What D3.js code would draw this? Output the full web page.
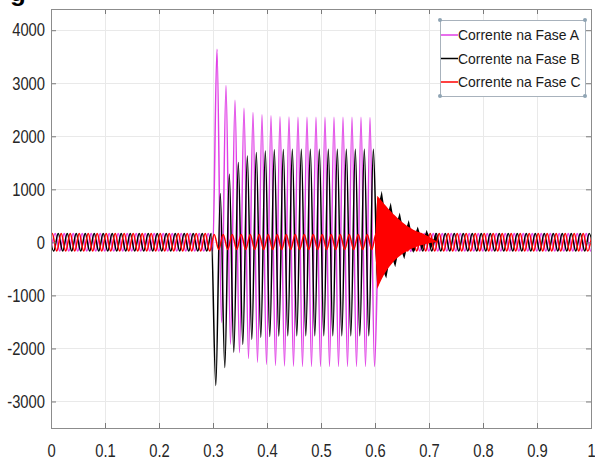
<!DOCTYPE html>
<html>
<head>
<meta charset="utf-8">
<script src="https://cdn.jsdelivr.net/npm/d3@7"></script>
<style>
  body { margin: 0; background: #fff; }
  text { font-family: "Liberation Sans", Arial, sans-serif; }
</style>
</head>
<body>
<div id="chart"></div>
<script>
// ---- data ----
const timeTicks = [0, 0.1, 0.2, 0.3, 0.4, 0.5, 0.6, 0.7, 0.8, 0.9, 1];
const currentTicks = [-3000, -2000, -1000, 0, 1000, 2000, 3000, 4000];
const seriesNames = ["Corrente na Fase A", "Corrente na Fase B", "Corrente na Fase C"];

// 60 Hz: one extreme every half cycle
const halfCycle = 1 / 120;

// time of the first extreme of each segment (pre-fault, fault, after clearing)
const startA = [-0.0005, 0.3074, 0.6079];
const startB = [-0.0033, 0.3052, 0.6051];
const startC = [-0.0061];

// successive peaks / troughs of each current
const faseA_pre = [
  -165, 165, -165, 165, -165, 165, -165, 165, -165, 165,
  -165, 165, -165, 165, -165, 165, -165, 165, -165, 165,
  -165, 165, -165, 165, -165, 165, -165, 165, -165, 165,
  -165, 165, -165, 165, -165, 165, -165];
const faseA_fault = [
  3640, -1510, 2960, -1920, 2680, -2080, 2530, -2190, 2450, -2260,
  2405, -2300, 2385, -2320, 2370, -2330, 2365, -2335, 2360, -2340,
  2360, -2340, 2360, -2340, 2360, -2340, 2360, -2340, 2360, -2340,
  2360, -2340, 2360, -2340, 2355, -2340];
const faseA_post = [
  420, -360, 270, -230, 200, -185, 175, -170, 165, -165,
  165, -165, 165, -165, 165, -165, 165, -165, 165, -165,
  165, -165, 165, -165, 165, -165, 165, -165, 165, -165,
  165, -165, 165, -165, 165, -165, 165, -165, 165, -165,
  165, -165, 165, -165, 165, -165, 165, -165, 165];

const faseB_pre = [
  165, -165, 165, -165, 165, -165, 165, -165, 165, -165,
  165, -165, 165, -165, 165, -165, 165, -165, 165, -165,
  165, -165, 165, -165, 165, -165, 165, -165, 165, -165,
  165, -165, 165, -165, 165, -165, 165];
const faseB_fault = [
  -2700, 920, -2360, 1285, -2070, 1505, -1925, 1630, -1830, 1695,
  -1790, 1725, -1775, 1745, -1765, 1750, -1760, 1755, -1760, 1755,
  -1760, 1755, -1760, 1755, -1760, 1755, -1760, 1755, -1760, 1755,
  -1760, 1755, -1760, 1755, -1760, 1755];
const faseB_post = [
  -700, 300, -260, 230, -200, 190, -175, 170, -165, 165,
  -165, 165, -165, 165, -165, 165, -165, 165, -165, 165,
  -165, 165, -165, 165, -165, 165, -165, 165, -165, 165,
  -165, 165, -165, 165, -165, 165, -165, 165, -165, 165,
  -165, 165, -165, 165, -165, 165, -165, 165, -165];

const faseC = [
  -165, 165, -165, 165, -165, 165, -165, 165, -165, 165,
  -165, 165, -165, 165, -165, 165, -165, 165, -165, 165,
  -165, 165, -165, 165, -165, 165, -165, 165, -165, 165,
  -165, 165, -165, 165, -165, 165, -165,
  150, -135, 150, -135, 150, -135, 150, -135, 150, -135,
  150, -135, 150, -135, 150, -135, 150, -135, 150, -135,
  150, -135, 150, -135, 150, -135, 150, -135, 150, -135,
  150, -135, 150, -135, 150, -135,
  165, -165, 165, -165, 165, -165, 165, -165, 165, -165,
  165, -165, 165, -165, 165, -165, 165, -165, 165, -165,
  165, -165, 165, -165, 165, -165, 165, -165, 165, -165,
  165, -165, 165, -165, 165, -165, 165, -165, 165, -165,
  165, -165, 165, -165, 165, -165, 165, -165, 165];

// high frequency ringing after the fault is cleared: envelope every quarter cycle from 0.6 s
const ringStart = 0.6;
const ringStep = 1 / 240;
const ringC_up  = [0, 880, 830, 780, 730, 680, 630, 585, 540, 500, 460, 420, 385, 350, 320,
                   290, 265, 240, 220, 200, 185, 170, 150, 130, 105, 80, 55, 30, 0];
const ringC_low = [0, -880, -780, -690, -610, -540, -480, -425, -375, -330, -290, -255, -225, -195, -170,
                   -145, -125, -105, -90, -75, -60, -48, -36, -25, -15, -8, -3, 0, 0];
const ringB_up  = [0, 850, 790, 971, 690, 640, 590, 752, 500, 460, 420, 564, 345, 310, 280,
                   424, 225, 200, 180, 300, 160, 140, 120, 236, 90, 70, 50, 187, 0];
const ringB_low = [0, -850, -750, -660, -580, -680, -450, -395, -345, -470, -260, -225, -195, -320, -140,
                   -115, -95, -200, -60, -45, -30, -135, -10, 0, 0, -110, 0, 0, 0];

const colors = ["#e03ee6", "#000000", "#ff0000"];

// ---- layout ----
var margin = {top: 9, right: 4, bottom: 32, left: 51},
    width = 595 - margin.left - margin.right,
    height = 460 - margin.top - margin.bottom;

var svg = d3.select("#chart")
    .append("svg")
    .attr("width", 595)
    .attr("height", 460);

// the figure uses a narrow sans face: squeeze Liberation Sans to that width
function condense(sel, ratio) {
    sel.each(function() {
        var w = this.getComputedTextLength();
        d3.select(this)
            .attr("textLength", w * ratio)
            .attr("lengthAdjust", "spacingAndGlyphs");
    });
}

// cut-off title glyph at the very top
svg.append("text")
    .attr("x", 10).attr("y", 1)
    .attr("font-size", 26).attr("font-weight", "bold")
    .text("g");

var g = svg.append("g")
    .attr("transform", `translate(${margin.left}, ${margin.top})`);

var x = d3.scaleLinear().domain([0, 1]).range([0, width]);
var y = d3.scaleLinear().domain([-3500, 4400]).range([height, 0]);

g.append("rect")
    .attr("width", width).attr("height", height)
    .attr("fill", "#fff");

// grid
g.append("g").selectAll("line")
    .data(timeTicks.slice(1, -1))
    .enter().append("line")
    .attr("x1", d => x(d)).attr("x2", d => x(d))
    .attr("y1", 0).attr("y2", height)
    .attr("stroke", "#e9e9e9").attr("shape-rendering", "crispEdges");
g.append("g").selectAll("line")
    .data(currentTicks)
    .enter().append("line")
    .attr("y1", d => y(d)).attr("y2", d => y(d))
    .attr("x1", 0).attr("x2", width)
    .attr("stroke", "#e9e9e9").attr("shape-rendering", "crispEdges");

// waveforms
function extremes(start, values) {
    return values.map((v, i) => [start + i * halfCycle, v]);
}
var seriesA = [].concat(extremes(startA[0], faseA_pre), extremes(startA[1], faseA_fault), extremes(startA[2], faseA_post));
var seriesB = [].concat(extremes(startB[0], faseB_pre), extremes(startB[1], faseB_fault), extremes(startB[2], faseB_post));
var seriesC = extremes(startC[0], faseC);

function ring(up, low) {
    return up.map((u, i) => ({t: ringStart + i * ringStep, up: u, low: low[i]}));
}

svg.append("defs").append("clipPath").attr("id", "plot-clip")
    .append("rect").attr("width", width).attr("height", height);

var plot = g.append("g").attr("clip-path", "url(#plot-clip)");

var line = d3.line()
    .x(d => x(d[0]))
    .y(d => y(d[1]))
    .curve(d3.curveMonotoneX);

var band = d3.area()
    .x(d => x(d.t))
    .y0(d => y(d.low))
    .y1(d => y(d.up));

plot.append("path").datum(seriesA)
    .attr("d", line).attr("fill", "none")
    .attr("stroke", colors[0]).attr("stroke-width", 1.5);

plot.append("path").datum(seriesB)
    .attr("d", line).attr("fill", "none")
    .attr("stroke", colors[1]).attr("stroke-width", 1.5);
plot.append("path").datum(ring(ringB_up, ringB_low))
    .attr("d", band).attr("fill", colors[1]);

plot.append("path").datum(seriesC)
    .attr("d", line).attr("fill", "none")
    .attr("stroke", colors[2]).attr("stroke-width", 1.5);
plot.append("path").datum(ring(ringC_up, ringC_low))
    .attr("d", band).attr("fill", colors[2]);

// axes
function styleAxis(sel) {
    sel.select(".domain").remove();
    sel.attr("font-family", null);
    sel.selectAll(".tick line").attr("stroke", "#7a7a7a");
    sel.selectAll("text")
        .attr("fill", "#262626")
        .attr("font-size", 18)
        .call(condense, 0.82);
}

g.append("g")
    .attr("transform", `translate(0, ${height})`)
    .call(d3.axisBottom(x).tickValues(timeTicks).tickSize(-5).tickPadding(16).tickFormat(d => String(d)))
    .call(styleAxis);
g.append("g")
    .call(d3.axisTop(x).tickValues(timeTicks).tickSize(-5).tickFormat(""))
    .call(styleAxis);
g.append("g")
    .call(d3.axisLeft(y).tickValues(currentTicks).tickSize(-5).tickPadding(6).tickFormat(d => String(d)))
    .call(styleAxis);
g.append("g")
    .attr("transform", `translate(${width}, 0)`)
    .call(d3.axisRight(y).tickValues(currentTicks).tickSize(-5).tickFormat(""))
    .call(styleAxis);

g.append("rect")
    .attr("width", width).attr("height", height)
    .attr("fill", "none").attr("stroke", "#8c8c8c")
    .attr("shape-rendering", "crispEdges");

// legend
var legend = svg.append("g").attr("transform", "translate(440, 20)");
legend.append("rect")
    .attr("width", 145).attr("height", 76)
    .attr("fill", "#fff").attr("stroke", "#a8b2bc")
    .attr("shape-rendering", "crispEdges");

var rows = legend.selectAll("g.row")
    .data(seriesNames)
    .enter().append("g")
    .attr("class", "row")
    .attr("transform", (d, i) => `translate(0, ${15 + i * 23.5})`);
rows.append("line")
    .attr("x1", 1).attr("x2", 18)
    .attr("stroke", (d, i) => colors[i]).attr("stroke-width", 1.5);
rows.append("text")
    .attr("x", 18).attr("dy", "0.35em")
    .attr("font-size", 15).attr("fill", "#1a1a1a")
    .text(d => d)
    .call(condense, 0.93);

// selection handles of the legend box
legend.selectAll("circle")
    .data([[0, 0], [145, 0], [0, 76], [145, 76]])
    .enter().append("circle")
    .attr("cx", d => d[0]).attr("cy", d => d[1]).attr("r", 2)
    .attr("fill", "#8fa4b4");
</script>
</body>
</html>
